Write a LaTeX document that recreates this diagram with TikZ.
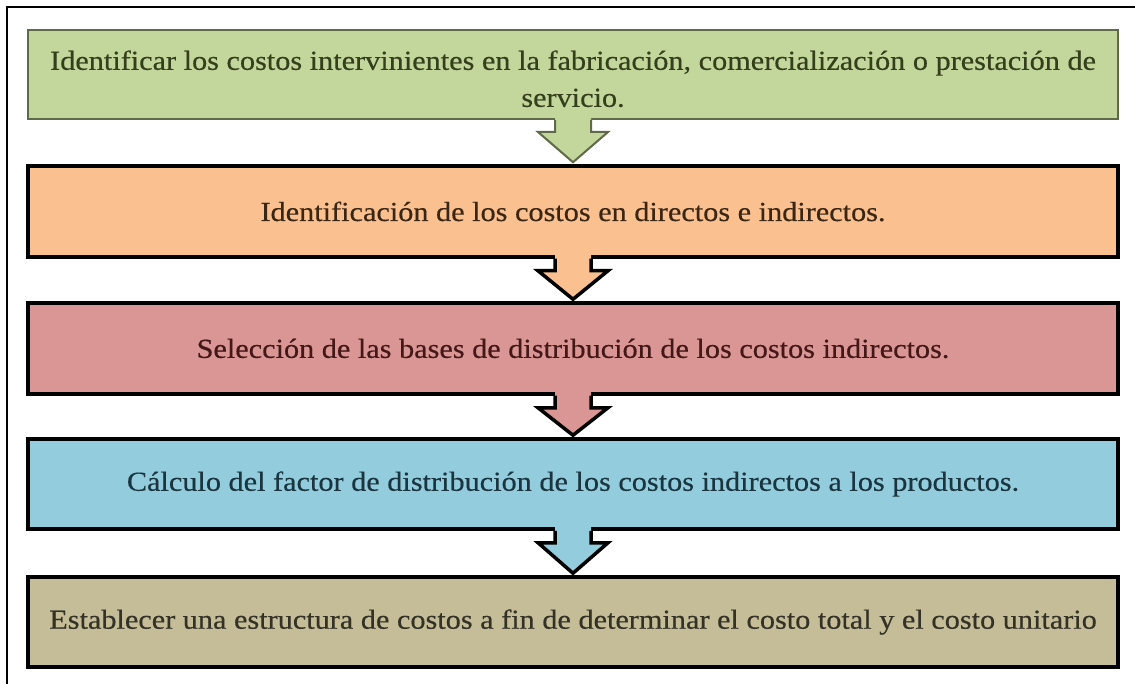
\documentclass[tikz,border=0pt]{standalone}
\usepackage{fontspec}
\setmainfont{Liberation Serif}[FakeStretch=1.1,FakeBold=0.4]
\usetikzlibrary{calc}
\definecolor{cgreen}{HTML}{C3D69B}
\definecolor{corange}{HTML}{FAC090}
\definecolor{cpink}{HTML}{D99694}
\definecolor{cblue}{HTML}{93CDDD}
\definecolor{ctan}{HTML}{C4BD97}
\definecolor{tgreen}{HTML}{34401C}
\definecolor{torange}{HTML}{3A2614}
\definecolor{tpink}{HTML}{441817}
\definecolor{tblue}{HTML}{1B3540}
\definecolor{ttan}{HTML}{343126}
\definecolor{lgreen}{HTML}{5E6A48}
\newcommand\flowarrow[4]{%
  \fill[#3] ($(#1.south)+(-18,-4)$) -- ($(#1.south)+(-18,12)$) -- ($(#1.south)+(-35,12)$)
    -- ($(#2.north)+(0,-2)$) -- ($(#1.south)+(35,12)$) -- ($(#1.south)+(18,12)$)
    -- ($(#1.south)+(18,-4)$) -- cycle;
  \draw[#4] ($(#1.south)+(-18,0)$) -- ($(#1.south)+(-18,12)$) -- ($(#1.south)+(-35,12)$)
    -- ($(#2.north)+(0,-2)$) -- ($(#1.south)+(35,12)$) -- ($(#1.south)+(18,12)$)
    -- ($(#1.south)+(18,0)$);
}
\begin{document}
\begin{tikzpicture}[x=1pt,y=-1pt,
  box/.style={rectangle, minimum width=1090pt, inner sep=0pt, align=center,
    font=\fontsize{27.5}{37}\selectfont},
  thinbox/.style={box, draw=lgreen, line width=2pt},
  thickbox/.style={box, draw=black, line width=3.5pt},
  thinline/.style={draw=lgreen, line width=2pt, line join=miter},
  thickline/.style={draw=black, line width=3.5pt, line join=miter},
  frame/.style={draw=black, line width=2pt}]
\useasboundingbox (0,0) rectangle (1135,684);
\draw[frame] (7,684) -- (7,7) -- (1135,7);
\node[thinbox, fill=cgreen, text=tgreen, minimum height=89pt] (b1) at (573,74.5)
  {\rule{0pt}{28pt}Identificar los costos intervinientes en la fabricación, comercialización o prestación de\\ servicio.};
\node[thickbox, fill=corange, text=torange, minimum height=91pt] (b2) at (573,211.5)
  {Identificación de los costos en directos e indirectos.};
\node[thickbox, fill=cpink, text=tpink, minimum height=91pt] (b3) at (573,348.5)
  {Selección de las bases de distribución de los costos indirectos.};
\node[thickbox, fill=cblue, text=tblue, minimum height=90pt] (b4) at (573,484)
  {Cálculo del factor de distribución de los costos indirectos a los productos.};
\node[thickbox, fill=ctan, text=ttan, minimum height=90pt] (b5) at (573,622)
  {Establecer una estructura de costos a fin de determinar el costo total y el costo unitario};
\flowarrow{b1}{b2}{cgreen}{thinline}
\flowarrow{b2}{b3}{corange}{thickline}
\flowarrow{b3}{b4}{cpink}{thickline}
\flowarrow{b4}{b5}{cblue}{thickline}
\end{tikzpicture}
\end{document}
